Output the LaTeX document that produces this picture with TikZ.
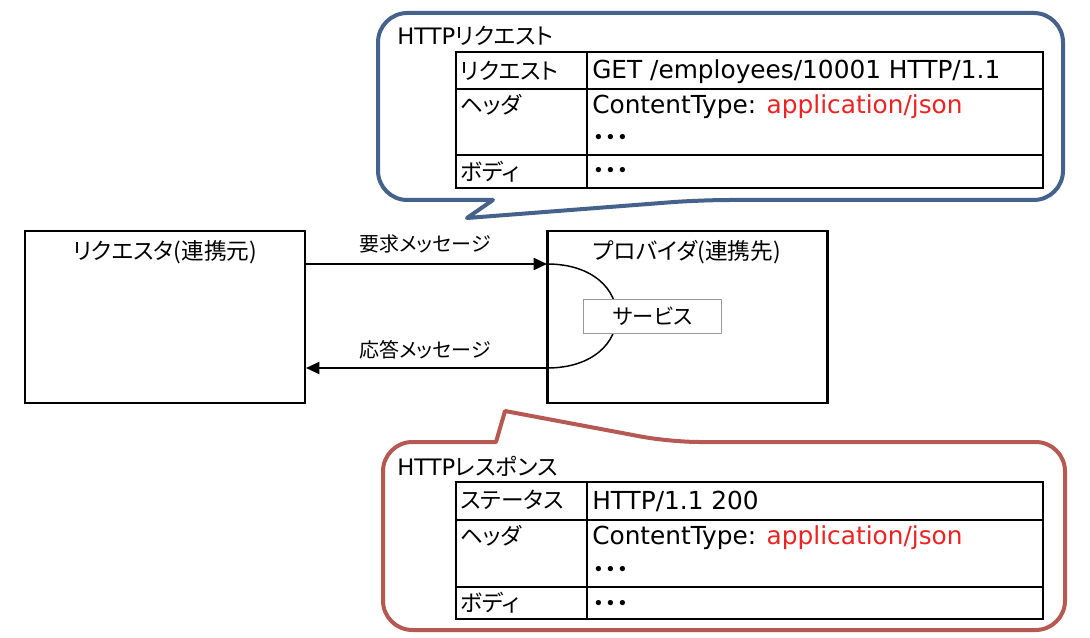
\documentclass[tikz,border=0pt]{standalone}
\usepackage{fontspec}
\setmainfont{DejaVu Sans}
\newfontfamily\jp{Noto Sans CJK JP}[RawFeature={+palt}]
\usepackage{tikz}
\usetikzlibrary{positioning,arrows.meta}
\usepackage{xcolor}
\definecolor{reqblue}{RGB}{68,98,140}
\definecolor{resred}{RGB}{181,89,82}
\definecolor{jsonred}{RGB}{238,34,34}

\tikzset{
  box/.style={draw, line width=2.2pt, minimum width=210pt, minimum height=129pt, inner sep=0pt},
  msg/.style={line width=1.4pt, -{Triangle[length=10pt,width=9pt]}},
  callout/.style={line width=3pt, fill=white, line join=round},
  tbl/.style={line width=1.2pt},
  cell/.style={anchor=west, inner sep=0pt, font=\fontsize{17}{20}\selectfont},
  val/.style={anchor=west, inner sep=0pt, font=\fontsize{18.6}{21}\selectfont},
  title/.style={anchor=west, inner sep=0pt, font=\fontsize{17}{20}\selectfont},
  lbl/.style={inner sep=0pt, font=\fontsize{15}{18}\selectfont\jp}
}

\begin{document}
\begin{tikzpicture}[x=0.75pt, y=-0.75pt]
\useasboundingbox (0,0) rectangle (1090,638);

% requester and provider
\node[box] (req) at (165,317) {};
\node[box] (prov) at (687.5,317) {};
\node[lbl, font=\fontsize{17}{20}\selectfont\jp] (reqname) at (165,252) {リクエスタ(連携元)};
\node[lbl, font=\fontsize{17}{20}\selectfont\jp] (provname) at (687,252) {プロバイダ(連携先)};

\coordinate (reqtop) at (305,264);
\coordinate (provtop) at (547,264);
\coordinate (provbot) at (547,368);
\coordinate (reqbot) at (306,368);

\draw[line width=1.1pt] (provtop) .. controls (640,264) and (640,368) .. (provbot);
\node[draw=black!40, fill=white, line width=0.6pt, minimum width=104pt, minimum height=26pt,
      font=\fontsize{16}{19}\selectfont\jp] (svc) at (652.5,316.5) {サービス};

\draw[msg] (reqtop) -- (provtop);
\draw[msg] (provbot) -- (reqbot);
\node[lbl] (reqmsg) at (425,244) {要求メッセージ};
\node[lbl] (resmsg) at (425,350) {応答メッセージ};

% request balloon
\draw[callout, draw=reqblue] (493,200) [rounded corners=22pt] -- (378,200) -- (378,13) -- (1063,13)
      -- (1063,200) -- (700,200) [sharp corners] -- (467,218) -- cycle;
\node[title] (reqtitle) at (397,36) {HTTP{\jp リクエスト}};
\draw[tbl] (456,52) rectangle (1043,188);
\draw[tbl] (587,52) -- (587,188);
\draw[tbl] (456,89) -- (1043,89);
\draw[tbl] (456,155) -- (1043,155);
\node[cell] (qline) at (460,71) {\jp リクエスト};
\node[cell] (qhead) at (460,105) {\jp ヘッダ};
\node[cell] (qbody) at (460,172) {\jp ボディ};
\node[val] (qlinev) at (592,72) {GET /employees/10001 HTTP/1.1};
\node[val] (qheadv) at (592,107) {ContentType: \textcolor{jsonred}{application/json}};
\node[val] (qheadm) at (592,140) {\jp ・・・};
\node[val] (qbodyv) at (592,173) {\jp ・・・};

% response balloon
\draw[callout, draw=resred] (496,442) [rounded corners=22pt] -- (383,442) -- (383,630) -- (1065,630)
      -- (1065,442) -- (670,442) [sharp corners] -- (505,411) -- cycle;
\node[title] (restitle) at (397,466) {HTTP{\jp レスポンス}};
\draw[tbl] (456,482) rectangle (1043,619);
\draw[tbl] (587,482) -- (587,619);
\draw[tbl] (456,520) -- (1043,520);
\draw[tbl] (456,587) -- (1043,587);
\node[cell] (sline) at (460,500) {\jp ステータス};
\node[cell] (shead) at (460,536) {\jp ヘッダ};
\node[cell] (sbody) at (460,603) {\jp ボディ};
\node[val] (slinev) at (592,501) {HTTP/1.1 200};
\node[val] (sheadv) at (592,538) {ContentType: \textcolor{jsonred}{application/json}};
\node[val] (sheadm) at (592,572) {\jp ・・・};
\node[val] (sbodyv) at (592,606) {\jp ・・・};
\end{tikzpicture}
\end{document}
